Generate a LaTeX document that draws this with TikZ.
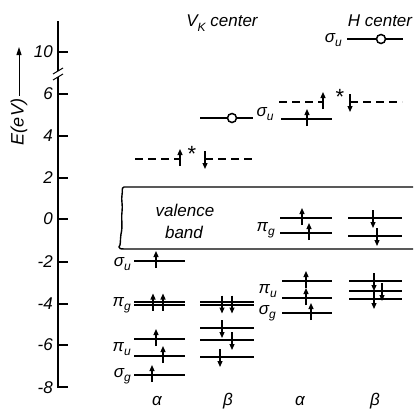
\documentclass[tikz,border=0pt]{standalone}
\usepackage{fontspec}
\setmainfont{Liberation Sans}
\usetikzlibrary{arrows.meta}
\newcommand\lvsym[2]{#1\raisebox{-0.4ex}{\fontsize{12}{12}\selectfont #2}}
\newcommand\upspin[2]{\draw[spin] (#1,#2+7) -- (#1,#2-10);}
\newcommand\dnspin[2]{\draw[spin] (#1,#2-8) -- (#1,#2+10);}
\begin{document}
\begin{tikzpicture}[x=1pt,y=-1pt,
  lab/.style={font=\fontsize{17}{17}\selectfont\itshape, inner sep=0pt},
  lev/.style={line width=1.6pt},
  exc/.style={line width=1.6pt, dash pattern=on 8pt off 5pt},
  axisline/.style={line width=1.3pt},
  spin/.style={line width=1.2pt, -{Triangle[length=6pt,width=5pt]}},
  hole/.style={circle, draw, line width=1.5pt, fill=white, minimum size=9pt, inner sep=0pt}]
\useasboundingbox (0,0) rectangle (413,415);

% energy axis
\draw[axisline] (58,21) -- (58,71);
\draw[axisline] (58,77) -- (58,387) -- (68,387);
\draw[line width=1pt] (53,74) -- (63,68);
\draw[line width=1pt] (53,80) -- (63,74);
\foreach \yy/\tl [count=\i] in {52/10,94/6,136/4,178/2,219/0,262/-2,304/-4,345/-6} {
  \draw[axisline] (58,\yy) -- (68,\yy);
  \node[lab, anchor=east] (tick\i) at (53,\yy) {\tl};
}
\node[lab, anchor=east] (tick9) at (53,388) {-8};
\node[lab, rotate=90, font=\fontsize{18}{18}\selectfont\itshape] (elab) at (19,122) {E(eV)};
\coordinate (etip) at (19,47);
\draw[line width=1pt, -{Triangle[length=8pt,width=5pt]}] ([yshift=3pt]elab.east) -- (etip);

% titles
\node[lab] (vk) at (222,23) {V\raisebox{-0.55ex}{\fontsize{12}{12}\selectfont K} center};
\node[lab] (hc) at (380,21) {H center};

% valence band
\draw[line width=1.4pt] (413,187) -- (124,187)
  .. controls (121,188) and (123,191) .. (122,195)
  .. controls (121,200) and (123,205) .. (122,212)
  .. controls (121,220) and (123,226) .. (121,234)
  .. controls (120,240) and (121,245) .. (119,247)
  .. controls (119,249) and (121,249) .. (124,249) -- (413,249);
\node[lab] (vb1) at (185,210) {valence};
\node[lab] (vb2) at (184,232) {band};

% ---- V_K center, alpha
\foreach \yy in {261,302,305,339,356,375} \draw[lev] (134,\yy) -- (185,\yy);
\node[lab, anchor=east] (vs1) at (131,264) {\lvsym{σ}{u}};
\node[lab, anchor=east] (vp1) at (131,305) {\lvsym{π}{g}};
\node[lab, anchor=east] (vp2) at (131,349) {\lvsym{π}{u}};
\node[lab, anchor=east] (vs2) at (131,376) {\lvsym{σ}{g}};
\upspin{156}{261}
\upspin{153}{303.5}
\upspin{163}{303.5}
\upspin{156}{339}
\upspin{163}{356}
\upspin{152}{375}
% ---- V_K center, beta
\foreach \yy in {302,305,328,340,357} \draw[lev] (200,\yy) -- (254,\yy);
\dnspin{222}{303.5}
\dnspin{232}{303.5}
\dnspin{222}{328}
\dnspin{232}{340}
\dnspin{220}{357}
% ---- V_K upper levels
\draw[lev] (200,118) -- (253,118);
\node[hole] (vkh) at (232,118) {};
\draw[exc] (135,159) -- (180,159);
\draw[exc] (205,159) -- (253,159);
\upspin{180}{159}
\dnspin{205}{159}
\node[lab, font=\fontsize{22}{22}\selectfont] (vkstar) at (192,154) {*};
\node[lab] (su2) at (265,114) {\lvsym{σ}{u}};

% ---- H center upper
\draw[lev] (347,39) -- (403,39);
\node[hole] (hh) at (381,39) {};
\node[lab, anchor=east] (hsu) at (342,40) {\lvsym{σ}{u}};
\draw[exc] (279,102) -- (323,102);
\draw[exc] (350,102) -- (402,102);
\upspin{323}{102}
\dnspin{350}{102}
\node[lab, font=\fontsize{22}{22}\selectfont] (hstar) at (340,97) {*};
\draw[lev] (281,119) -- (332,119);
\upspin{307}{119}

% ---- H center pi_g (inside band)
\draw[lev] (280,218) -- (332,218);
\draw[lev] (280,233) -- (332,233);
\draw[lev] (348,218) -- (402,218);
\draw[lev] (348,236) -- (402,236);
\node[lab, anchor=east] (hpg) at (275,230) {\lvsym{π}{g}};
\upspin{302}{218}
\upspin{309}{233}
\dnspin{373}{218}
\dnspin{377}{236}

% ---- H center lower
\foreach \yy in {281,298,313} \draw[lev] (282,\yy) -- (332,\yy);
\foreach \yy in {281,291,299} \draw[lev] (349,\yy) -- (402,\yy);
\node[lab, anchor=east] (hpu) at (277,291) {\lvsym{π}{u}};
\node[lab, anchor=east] (hsg) at (276,313) {\lvsym{σ}{g}};
\upspin{306}{281}
\upspin{306}{298}
\upspin{311}{313}
\dnspin{374}{281}
\dnspin{382}{291}
\dnspin{374}{299}

% spin labels
\node[lab] (a1) at (157,401) {α};
\node[lab] (b1) at (228,401) {β};
\node[lab] (a2) at (300,401) {α};
\node[lab] (b2) at (375,401) {β};
\end{tikzpicture}
\end{document}
